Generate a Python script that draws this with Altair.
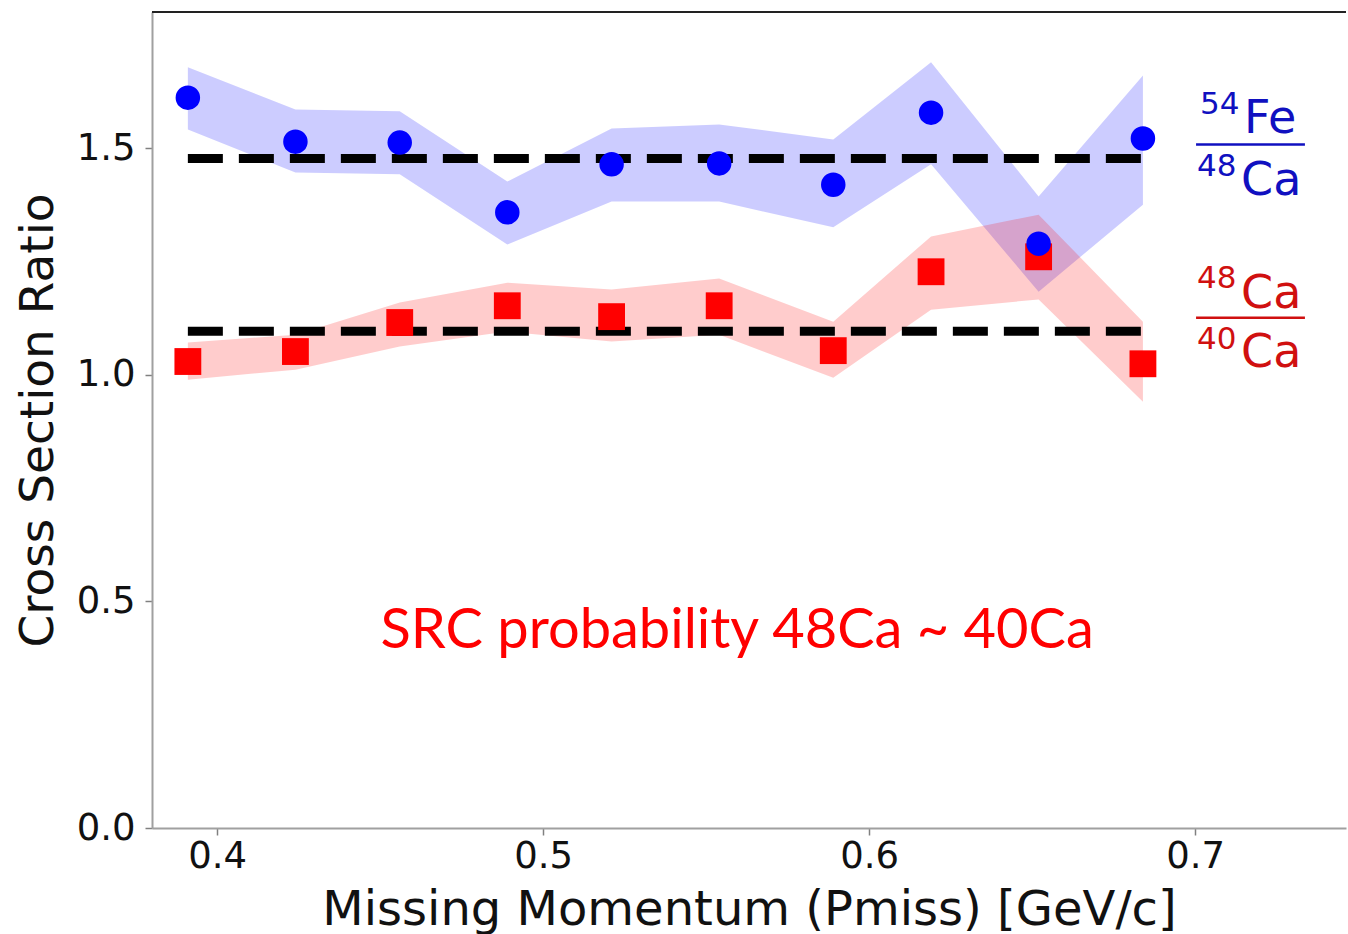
import altair as alt
import pandas as pd

# --- data ---
pmiss = [0.391, 0.424, 0.456, 0.489, 0.521, 0.554, 0.589, 0.619, 0.652, 0.684]
fe_ca48 = [1.611, 1.514, 1.512, 1.358, 1.464, 1.466, 1.419, 1.578, 1.289, 1.521]
fe_ca48_hi = [1.678, 1.585, 1.581, 1.426, 1.543, 1.552, 1.519, 1.689, 1.393, 1.660]
fe_ca48_lo = [1.541, 1.446, 1.442, 1.287, 1.382, 1.382, 1.325, 1.464, 1.183, 1.375]
ca48_ca40 = [1.029, 1.051, 1.115, 1.152, 1.128, 1.152, 1.053, 1.227, 1.260, 1.024]
ca48_ca40_hi = [1.071, 1.088, 1.159, 1.203, 1.188, 1.212, 1.117, 1.305, 1.353, 1.117]
ca48_ca40_lo = [0.989, 1.011, 1.062, 1.095, 1.073, 1.088, 0.993, 1.143, 1.166, 0.940]
mean_levels = [1.477, 1.096]
x_ticks = [0.4, 0.5, 0.6, 0.7]
y_ticks = [0.0, 0.5, 1.0, 1.5]

ann_text = ["54", "Fe", "48", "Ca", "48", "Ca", "40", "Ca", "SRC probability 48Ca ~ 40Ca"]
ann_x = [0.7015, 0.7150, 0.7006, 0.7141, 0.7006, 0.7141, 0.7006, 0.7141, 0.5595]
ann_y = [1.576, 1.532, 1.439, 1.397, 1.192, 1.148, 1.057, 1.018, 0.397]
ann_size = [31, 46, 31, 46, 31, 46, 31, 46, 56]
ann_color = ["#1010c0", "#1010c0", "#1010c0", "#1010c0",
             "#d01010", "#d01010", "#d01010", "#d01010", "#ff0000"]
ann_font = ["DejaVu Sans"] * 8 + ["Lato"]
bar_x = [0.7003, 0.7337]
bar_y = [1.5077, 1.1258]
bar_color = ["#1010c0", "#d01010"]

W, H = 1194, 816
xs = alt.Scale(domain=[0.38, 0.7463], nice=False, zero=False)
ys = alt.Scale(domain=[0, 1.8], nice=False, zero=False)

df = pd.DataFrame({
    "x": pmiss,
    "b": fe_ca48, "bhi": fe_ca48_hi, "blo": fe_ca48_lo,
    "r": ca48_ca40, "rhi": ca48_ca40_hi, "rlo": ca48_ca40_lo,
})
lines_df = pd.DataFrame({"y": mean_levels, "x1": [pmiss[0]] * 2, "x2": [pmiss[-1]] * 2})
ann_df = pd.DataFrame({"t": ann_text, "x": ann_x, "y": ann_y, "s": ann_size,
                       "c": ann_color, "f": ann_font})
bars_df = pd.DataFrame({"y": bar_y, "x1": [bar_x[0]] * 2, "x2": [bar_x[1]] * 2, "c": bar_color})

base = alt.Chart(df)

x_enc = alt.X("x:Q", scale=xs, axis=alt.Axis(
    title="Missing Momentum (Pmiss) [GeV/c]", values=x_ticks, format=".1f",
    grid=False, domainColor="#a0a0a0", domainWidth=2, tickColor="#808080",
    tickSize=7, tickWidth=1.5, labelFontSize=37, labelFont="DejaVu Sans",
    labelColor="#111111", labelPadding=3, titleFontSize=48,
    titleFont="DejaVu Sans", titleFontWeight="normal", titleColor="#111111",
    titlePadding=12))
y_axis = alt.Axis(
    title="Cross Section Ratio", values=y_ticks, format=".1f", grid=False,
    domainColor="#a0a0a0", domainWidth=2, tickColor="#808080", tickSize=7,
    tickWidth=1.5, labelFontSize=37, labelFont="DejaVu Sans",
    labelColor="#111111", labelPadding=10, titleFontSize=47,
    titleFont="DejaVu Sans", titleFontWeight="normal", titleColor="#111111",
    titlePadding=14)

band_b = base.mark_area(color="#0000ff", opacity=0.2).encode(
    x=x_enc, y=alt.Y("blo:Q", scale=ys, axis=y_axis), y2="bhi:Q")
band_r = base.mark_area(color="#ff0000", opacity=0.2).encode(
    x="x:Q", y=alt.Y("rlo:Q", scale=ys), y2="rhi:Q")

dash = alt.Chart(lines_df).mark_rule(
    color="black", strokeWidth=9, strokeDash=[35, 16], strokeCap="butt").encode(
    x=alt.X("x1:Q", scale=xs), x2="x2:Q", y=alt.Y("y:Q", scale=ys))

pts_r = base.mark_point(shape="square", filled=True, size=720, color="#ff0000",
                        opacity=1).encode(x="x:Q", y=alt.Y("r:Q", scale=ys))
pts_b = base.mark_point(shape="circle", filled=True, size=600, color="#0000ff",
                        opacity=1).encode(x="x:Q", y=alt.Y("b:Q", scale=ys))

frac_bars = alt.Chart(bars_df).mark_rule(strokeWidth=2.5).encode(
    x=alt.X("x1:Q", scale=xs), x2="x2:Q", y=alt.Y("y:Q", scale=ys),
    color=alt.Color("c:N", scale=None))

texts_frac = alt.Chart(ann_df[ann_df.f == "DejaVu Sans"]).mark_text(
    align="left", baseline="alphabetic", font="DejaVu Sans").encode(
    x=alt.X("x:Q", scale=xs), y=alt.Y("y:Q", scale=ys), text="t:N",
    size=alt.Size("s:Q", scale=None), color=alt.Color("c:N", scale=None))
texts_src = alt.Chart(ann_df[ann_df.f == "Lato"]).mark_text(
    align="center", baseline="alphabetic", font="Lato").encode(
    x=alt.X("x:Q", scale=xs), y=alt.Y("y:Q", scale=ys), text="t:N",
    size=alt.Size("s:Q", scale=None), color=alt.Color("c:N", scale=None))

top_border = alt.Chart(lines_df).mark_rule(color="#222222", strokeWidth=2).encode(
    x=alt.value(0), x2=alt.value(W), y=alt.value(0))

chart = alt.layer(
    band_b, band_r, dash, pts_r, pts_b, frac_bars, texts_frac, texts_src, top_border
).properties(
    width=W, height=H,
    autosize=alt.AutoSizeParams(type="none"),
    padding={"left": 152, "top": 12, "right": 2, "bottom": 106},
    background="white",
).configure_view(stroke=None)

chart.save("out.html", embed_options={"renderer": "svg", "actions": False})
